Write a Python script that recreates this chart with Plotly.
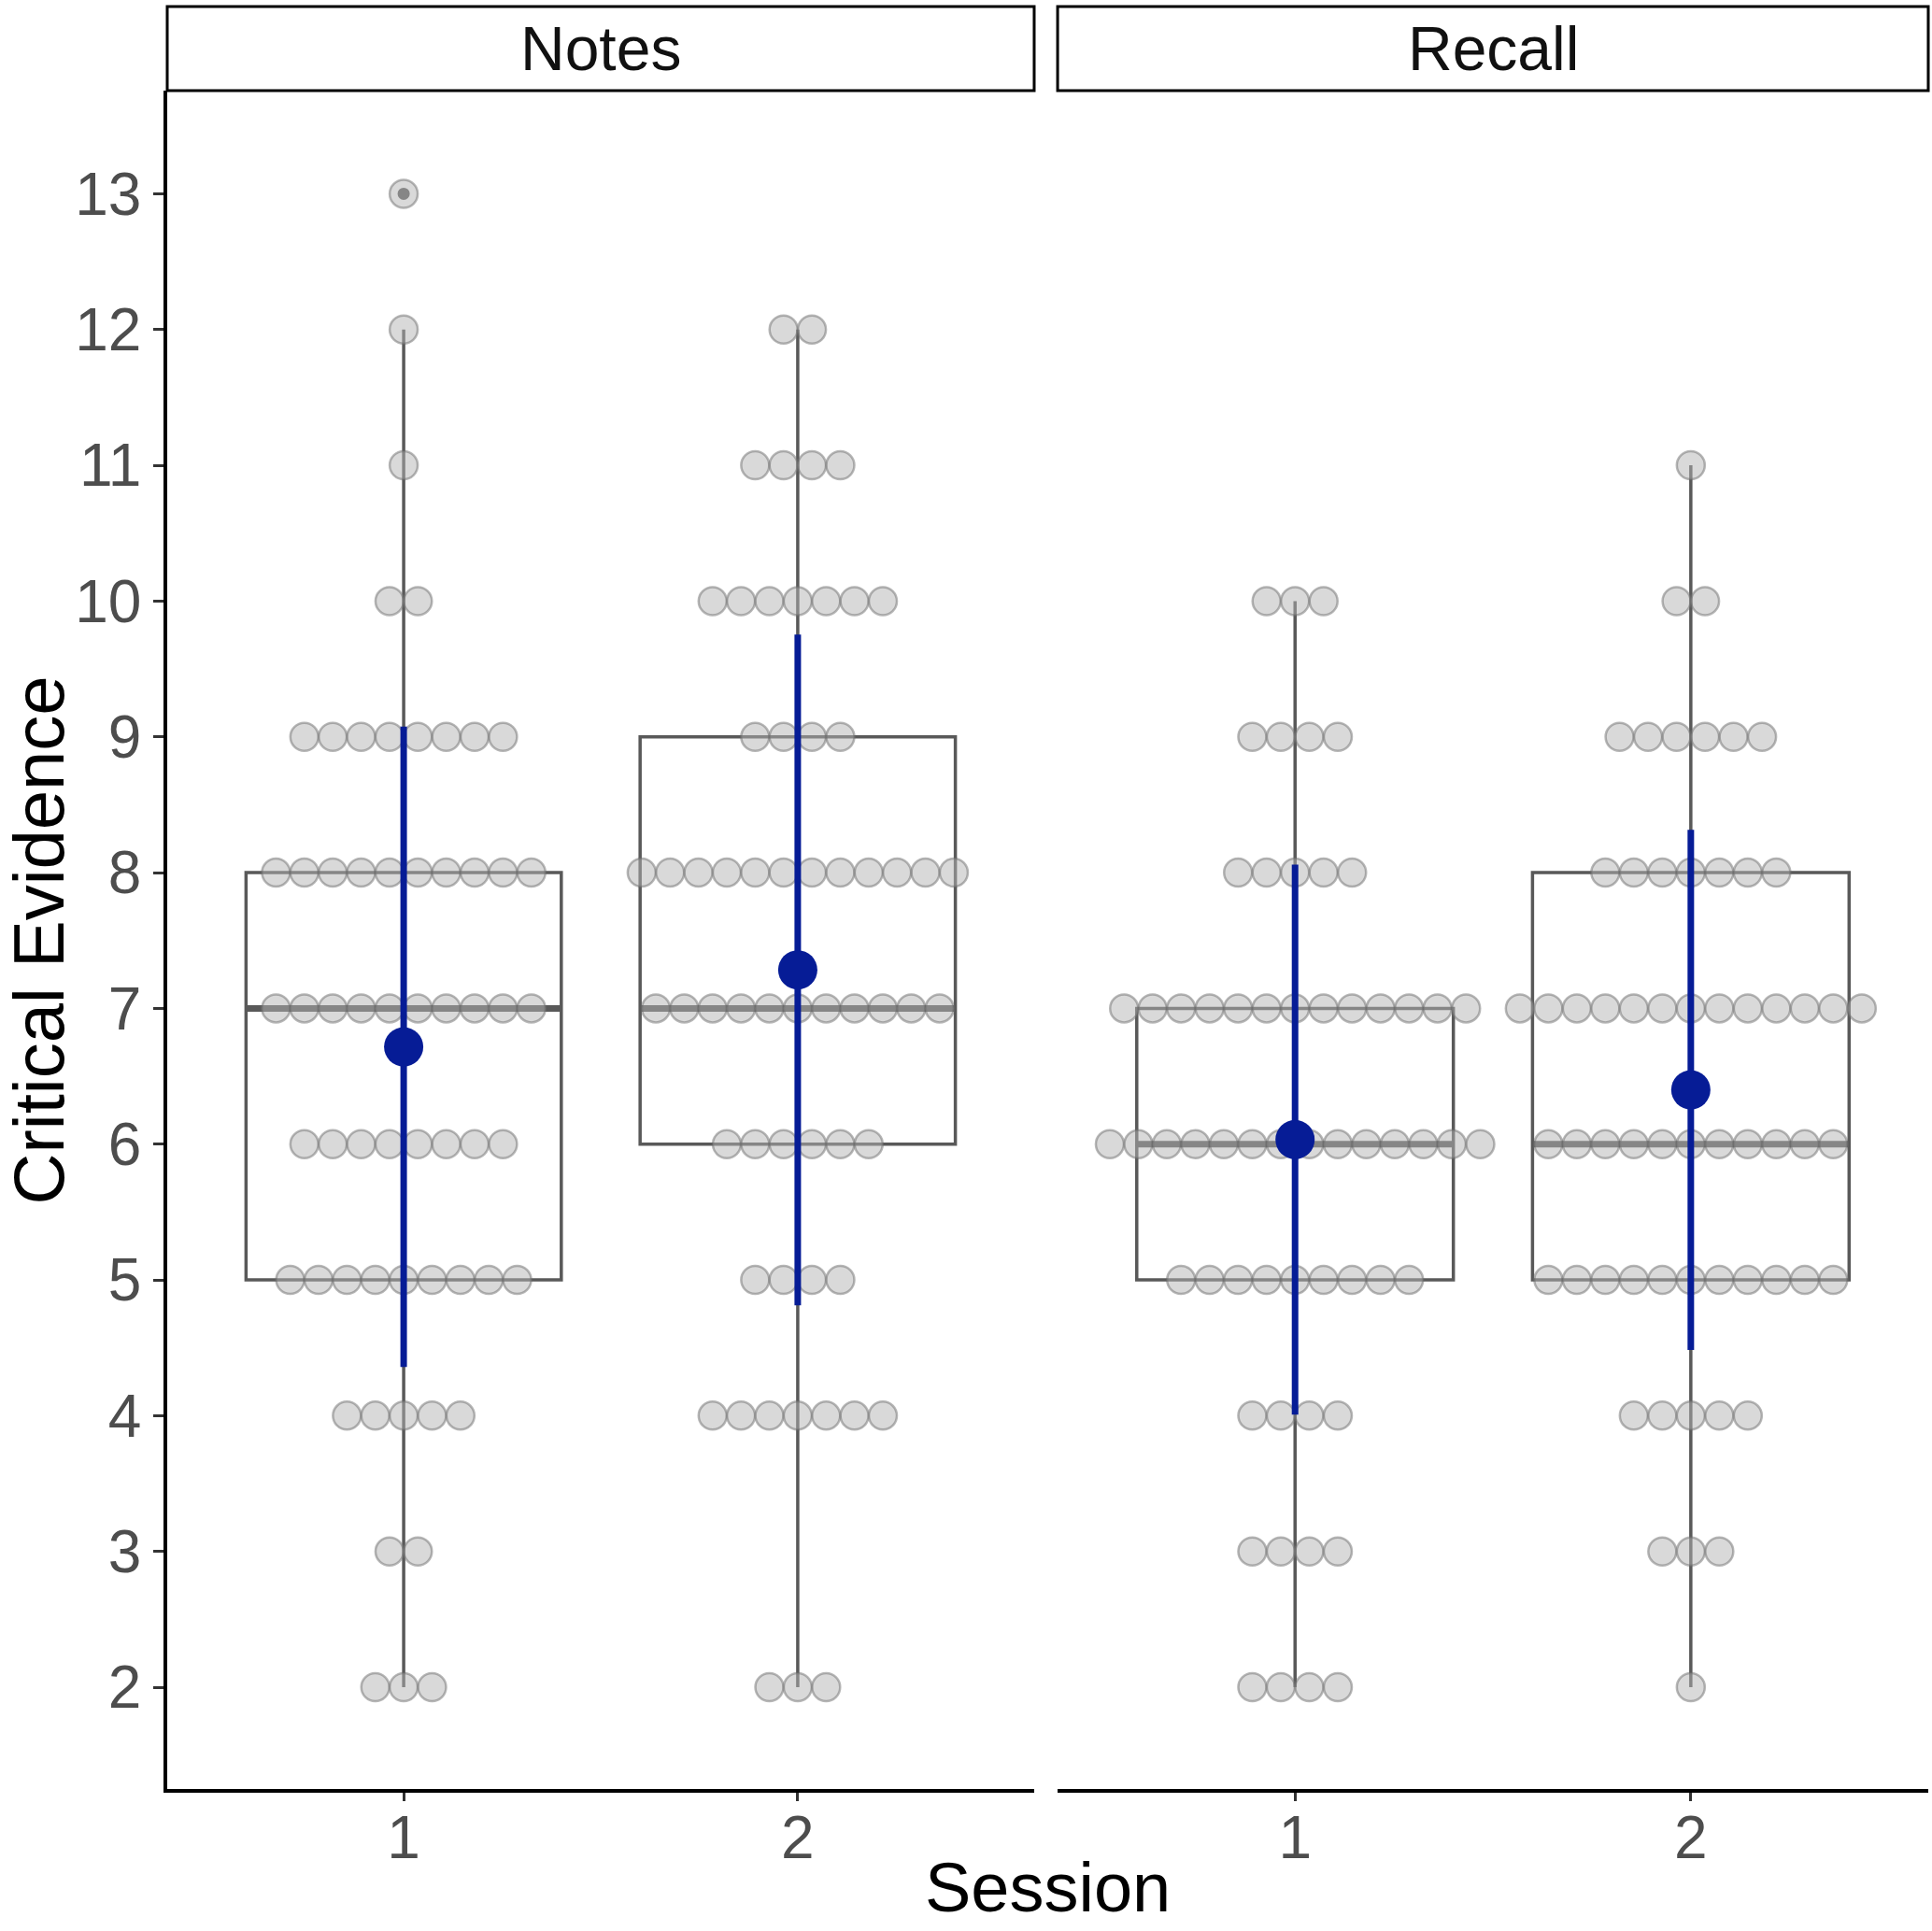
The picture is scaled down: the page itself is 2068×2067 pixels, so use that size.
import numpy as np
import plotly.graph_objects as go

# score levels on the y axis and how many participants sit at each level
levels = list(range(2, 14))
facets = ["Notes", "Recall"]
sessions = [1, 2]

notes_s1 = [3, 2, 5, 9, 8, 10, 10, 8, 2, 1, 1, 1]
notes_s2 = [3, 0, 7, 4, 6, 11, 12, 4, 7, 4, 2, 0]
recall_s1 = [4, 4, 4, 9, 14, 13, 5, 4, 3, 0, 0, 0]
recall_s2 = [1, 3, 5, 11, 11, 13, 7, 6, 2, 1, 0, 0]

counts = {
    ("Notes", 1): notes_s1,
    ("Notes", 2): notes_s2,
    ("Recall", 1): recall_s1,
    ("Recall", 2): recall_s2,
}

BLUE = "#061c96"
BOX = "#595959"
FONT = "Liberation Sans, Arial, sans-serif"
dot_step = 0.072  # horizontal stacking step of the dotplot, in axis units

fig = go.Figure()

for fi, facet in enumerate(facets):
    xa = "x" if fi == 0 else "x2"
    ya = "y" if fi == 0 else "y2"
    for s in sessions:
        cnt = counts[(facet, s)]
        vals = np.repeat(levels, cnt).astype(float)

        # boxplot (whiskers/outliers computed by plotly)
        fig.add_trace(go.Box(
            x=[s] * len(vals), y=vals, xaxis=xa, yaxis=ya,
            width=0.8, whiskerwidth=0, quartilemethod="linear",
            fillcolor="rgba(0,0,0,0)", line=dict(color=BOX, width=3.5),
            boxpoints="outliers", marker=dict(color=BOX, size=13),
            showlegend=False, hoverinfo="skip",
        ))
        med = float(np.median(vals))
        fig.add_trace(go.Scatter(
            x=[s - 0.4, s + 0.4], y=[med, med], xaxis=xa, yaxis=ya,
            mode="lines", line=dict(color=BOX, width=7),
            showlegend=False, hoverinfo="skip",
        ))

        # centred dotplot
        xs, ys = [], []
        for lv, c in zip(levels, cnt):
            for i in range(c):
                xs.append(s + (i - (c - 1) / 2) * dot_step)
                ys.append(lv)
        fig.add_trace(go.Scatter(
            x=xs, y=ys, xaxis=xa, yaxis=ya, mode="markers",
            marker=dict(size=30, color="rgba(179,179,179,0.5)",
                        line=dict(color="rgba(112,112,112,0.5)", width=2.5)),
            showlegend=False, hoverinfo="skip",
        ))

        # mean +/- sd
        m = vals.mean()
        sd = vals.std(ddof=1)
        fig.add_trace(go.Scatter(
            x=[s, s], y=[m - sd, m + sd], xaxis=xa, yaxis=ya,
            mode="lines", line=dict(color=BLUE, width=7),
            showlegend=False, hoverinfo="skip",
        ))
        fig.add_trace(go.Scatter(
            x=[s], y=[m], xaxis=xa, yaxis=ya, mode="markers",
            marker=dict(size=42, color=BLUE),
            showlegend=False, hoverinfo="skip",
        ))

dom_left = [0, 0.4923]
dom_right = [0.5056, 1]

xcommon = dict(
    range=[0.4, 2.6], tickvals=sessions, ticks="outside", ticklen=9,
    tickwidth=3, tickcolor="#333333", showline=True, linecolor="black",
    linewidth=3.5, showgrid=False, zeroline=False, ticklabelstandoff=-16,
    tickfont=dict(family=FONT, size=64, color="#4d4d4d"),
)

fig.update_layout(
    width=2068, height=2067,
    margin=dict(l=179, r=4, t=97, b=152),
    paper_bgcolor="white", plot_bgcolor="white",
    font=dict(family=FONT),
    xaxis=dict(domain=dom_left, anchor="y", **xcommon),
    xaxis2=dict(domain=dom_right, anchor="y2", **xcommon),
    yaxis=dict(
        domain=[0, 1], anchor="x", range=[1.25, 13.76], tickvals=levels,
        ticks="outside", ticklen=11, tickwidth=3, tickcolor="#333333",
        showline=True, linecolor="black", linewidth=3.5,
        showgrid=False, zeroline=False,
        tickfont=dict(family=FONT, size=64, color="#4d4d4d"),
    ),
    yaxis2=dict(
        domain=[0, 1], anchor="x2", matches="y", showline=False,
        showticklabels=False, ticks="", showgrid=False, zeroline=False,
    ),
    showlegend=False,
)

strip_h = 90 / 1818
for dom, facet in zip([dom_left, dom_right], facets):
    fig.add_shape(type="rect", xref="paper", yref="paper",
                  x0=dom[0], x1=dom[1], y0=1, y1=1 + strip_h,
                  line=dict(color="black", width=3), fillcolor="white")
    fig.add_annotation(text=facet, xref="paper", yref="paper",
                       x=(dom[0] + dom[1]) / 2, y=1 + strip_h / 2,
                       showarrow=False, xanchor="center", yanchor="middle",
                       font=dict(family=FONT, size=66, color="#111111"))

fig.add_annotation(text="Session", xref="paper", yref="paper",
                   x=0.5, y=-0.058, showarrow=False,
                   xanchor="center", yanchor="middle",
                   font=dict(family=FONT, size=74, color="black"))
fig.add_annotation(text="Critical Evidence", xref="paper", yref="paper",
                   x=-0.073, y=0.5, showarrow=False, textangle=-90,
                   xanchor="center", yanchor="middle",
                   font=dict(family=FONT, size=76, color="black"))

fig.write_html(
    "out.html",
    config={"displayModeBar": False},
    post_script="document.body.style.margin='0px';"
                "document.body.style.overflow='hidden';",
)
